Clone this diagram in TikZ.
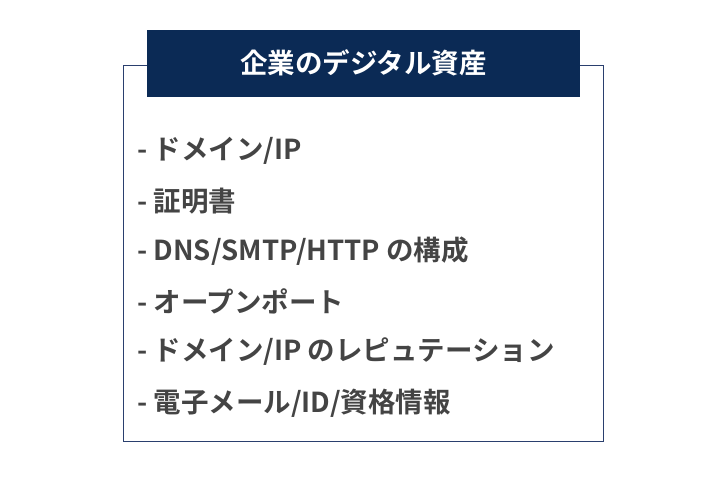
\documentclass[tikz,border=0pt]{standalone}
\usepackage{fontspec}
\setmainfont{Noto Sans CJK JP}[BoldFont={* Bold}]
\definecolor{navy}{HTML}{0B2A55}
\definecolor{frame}{HTML}{2A3F6E}
\definecolor{txt}{HTML}{444444}
\begin{document}
\begin{tikzpicture}[x=1pt,y=-1pt,
  item/.style={anchor=west,inner sep=0,text=txt,font=\fontsize{27.5}{30}\selectfont\bfseries}]
\useasboundingbox (0,0) rectangle (711,493);
\draw[frame,line width=1pt] (123,65) rectangle (603,441);
\fill[navy] (147,30) rectangle (580,97);
\node[text=white,font=\fontsize{27.5}{30}\selectfont\bfseries] (title) at (363.5,63) {企業のデジタル資産};
\node[item] (i1) at (137,151) {- ドメイン/IP};
\node[item] (i2) at (137,201) {- 証明書};
\node[item] (i3) at (137,251) {- DNS/SMTP/HTTP の構成};
\node[item] (i4) at (137,301) {- オープンポート};
\node[item] (i5) at (137,352) {- ドメイン/IP のレピュテーション};
\node[item] (i6) at (137,403) {- 電子メール/ID/資格情報};
\end{tikzpicture}
\end{document}
